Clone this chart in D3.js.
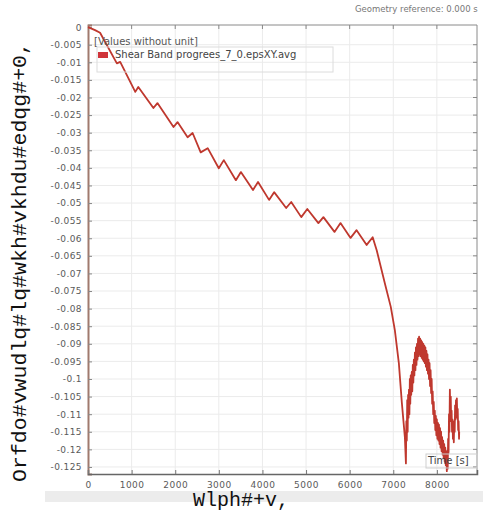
<!DOCTYPE html>
<html><head><meta charset="utf-8">
<script src="https://cdn.jsdelivr.net/npm/d3@7"></script>
<style>body{margin:0;background:#fff}svg{display:block}</style>
</head><body>
<script>
// ---- data ----
const timeS = [0,161,277,662,738,1084,1153,1500,1592,1961,2053,2284,2399,2584,2745,2999,3114,3391,3506,3783,3899,4152,4268,4544,4660,4890,5029,5283,5398,5652,5790,6021,6159,6390,6528,6620,6805,6943,7036,7128,7197,7266,
7290,7300,7310,7320,7330,7340,7350,7360,7370,7380,7390,7400,7412,7424,7436,7448,7460,7472,7484,7496,7508,7520,7532,7544,7556,7568,7580,7592,7604,7616,7628,7640,7652,7664,7676,7688,7700,7712,7724,7736,7748,7760,7772,7784,7796,7808,7820,7832,7844,7856,7868,7880,7892,7904,7916,7928,7940,7952,7964,7976,7988,8000,8012,8024,8036,8048,8060,8072,8084,8096,8108,8120,8132,8144,8156,8168,8180,8192,8204,8216,8228,8238,8248,8258,8268,8278,8288,8298,8308,8318,8328,8338,8348,8358,8368,8378,8388,8398,8408,8418,8428,8438,8448,8458,8468,8478,8488,8498,8508,8512];
const strain = [0,-0.00085,-0.0016,-0.0103,-0.0099,-0.0184,-0.0170,-0.0230,-0.0216,-0.0284,-0.0270,-0.0313,-0.0301,-0.0356,-0.0344,-0.0401,-0.0378,-0.0435,-0.0412,-0.0463,-0.0440,-0.0491,-0.0469,-0.0514,-0.0497,-0.0540,-0.0517,-0.0557,-0.0540,-0.0582,-0.0557,-0.0599,-0.0577,-0.0619,-0.0597,-0.0634,-0.0727,-0.0795,-0.0861,-0.0955,-0.1068,-0.1165,
-0.1240,-0.1120,-0.1175,-0.1060,-0.1150,-0.1045,-0.1110,-0.1030,-0.1100,-0.1000,-0.1070,-0.0990,-0.1045,-0.0980,-0.1035,-0.0960,-0.1010,-0.0945,-0.0990,-0.0925,-0.0975,-0.0910,-0.0960,-0.0900,-0.0945,-0.0885,-0.0935,-0.0880,-0.0930,-0.0885,-0.0935,-0.0890,-0.0940,-0.0895,-0.0945,-0.0900,-0.0950,-0.0905,-0.0955,-0.0910,-0.0965,-0.0920,-0.0975,-0.0930,-0.0985,-0.0945,-0.1000,-0.0955,-0.1020,-0.0975,-0.1040,-0.1000,-0.1070,-0.1035,-0.1100,-0.1065,-0.1125,-0.1090,-0.1145,-0.1105,-0.1160,-0.1115,-0.1170,-0.1125,-0.1175,-0.1130,-0.1185,-0.1140,-0.1195,-0.1150,-0.1205,-0.1165,-0.1215,-0.1175,-0.1225,-0.1185,-0.1235,-0.1195,-0.1245,-0.1205,-0.1262,-0.1215,-0.1255,-0.1170,-0.1210,-0.1100,-0.1150,-0.1030,-0.1095,-0.1050,-0.1120,-0.1090,-0.1150,-0.1115,-0.1170,-0.1130,-0.1180,-0.1120,-0.1150,-0.1075,-0.1115,-0.1060,-0.1100,-0.1055,-0.1110,-0.1085,-0.1145,-0.1120,-0.1170,-0.1150];
const xTicks = [0,1000,2000,3000,4000,5000,6000,7000,8000];
const yTicks = [0,-0.005,-0.01,-0.015,-0.02,-0.025,-0.03,-0.035,-0.04,-0.045,-0.05,-0.055,-0.06,-0.065,-0.07,-0.075,-0.08,-0.085,-0.09,-0.095,-0.1,-0.105,-0.11,-0.115,-0.12,-0.125];
const seriesName = "Shear Band progrees_7_0.epsXY.avg";
const legendTitle = "[Values without unit]";
const xTitle = "Wlph#+v,";
const yTitle = "Orfdo#vwudlq#lq#wkh#vkhdu#edqg#+0,";
const xUnitLabel = "Time [s]";
const geomRef = "Geometry reference: 0.000 s";

// ---- drawing ----
const W = 483, H = 515;
const L = 88, R = 477, T = 25, B = 474;
const svg = d3.select("body").append("svg").attr("width", W).attr("height", H);
const x = d3.scaleLinear().domain([0, 8920]).range([L, R]);
const y = d3.scaleLinear().domain([-0.127, 0.0006]).range([B, T]);

// scrollbar strip
svg.append("rect").attr("x", 45).attr("y", 491).attr("width", W - 45).attr("height", 11).attr("fill", "#ececec");

// grid
const g = svg.append("g");
g.selectAll(".vg").data(xTicks.filter(d => d > 0)).join("line")
  .attr("x1", d => x(d)).attr("x2", d => x(d)).attr("y1", T).attr("y2", B)
  .attr("stroke", "#ebebeb").attr("stroke-width", 1);
g.selectAll(".hg").data(yTicks.filter(d => d < 0)).join("line")
  .attr("x1", L).attr("x2", R).attr("y1", d => y(d)).attr("y2", d => y(d))
  .attr("stroke", "#ebebeb").attr("stroke-width", 1);

// frame top/right
svg.append("line").attr("x1", L).attr("x2", R).attr("y1", T).attr("y2", T).attr("stroke", "#8a8a8a");
svg.append("line").attr("x1", R).attr("x2", R).attr("y1", T).attr("y2", B).attr("stroke", "#8a8a8a");

// axes
const fmtY = d => d === 0 ? "0" : String(+d.toFixed(3));
const yAxis = d3.axisLeft(y).tickValues(yTicks).tickFormat(fmtY).tickSize(-4).tickPadding(6);
const yg = svg.append("g").attr("transform", `translate(${L},0)`).call(yAxis);
yg.select(".domain").attr("stroke", "#a07a6e").attr("stroke-width", 2);
yg.selectAll(".tick line").attr("stroke", "#888");
yg.selectAll(".tick text").attr("fill", "#5a5a5a").attr("font-size", 9).attr("font-family", "DejaVu Sans").attr("letter-spacing", 0.4);

const xAxis = d3.axisBottom(x).tickValues(xTicks).tickFormat(d3.format("d")).tickSize(-4).tickPadding(8);
const xg = svg.append("g").attr("transform", `translate(0,${B})`).call(xAxis);
xg.select(".domain").attr("stroke", "#666").attr("stroke-width", 1.5);
xg.selectAll(".tick line").attr("stroke", "#777");
xg.selectAll(".tick text").attr("fill", "#5a5a5a").attr("font-size", 9).attr("font-family", "DejaVu Sans").attr("letter-spacing", 0.5);

// top & right inner ticks
svg.selectAll(".tt").data(xTicks.filter(d => d > 0)).join("line")
  .attr("x1", d => x(d)).attr("x2", d => x(d)).attr("y1", T).attr("y2", T + 4).attr("stroke", "#888");
svg.selectAll(".rt").data(yTicks.filter(d => d < 0)).join("line")
  .attr("x1", R - 4).attr("x2", R).attr("y1", d => y(d)).attr("y2", d => y(d)).attr("stroke", "#888");

// data line
const pts = timeS.map((t, i) => [t, strain[i]]);
svg.append("path").datum(pts)
  .attr("d", d3.line().x(d => x(d[0])).y(d => y(d[1])))
  .attr("fill", "none").attr("stroke", "#bf382e").attr("stroke-width", 1.8).attr("stroke-linejoin", "round");

// legend
svg.append("text").attr("x", 94).attr("y", 45).text(legendTitle)
  .attr("font-family", "DejaVu Sans").attr("font-size", 10).attr("fill", "#555");
svg.append("rect").attr("x", 97).attr("y", 47).attr("width", 236).attr("height", 25)
  .attr("fill", "none").attr("stroke", "#dcdcdc");
svg.append("rect").attr("x", 98).attr("y", 52).attr("width", 10).attr("height", 6).attr("fill", "#d0343a");
svg.append("text").attr("x", 115).attr("y", 58).text(seriesName)
  .attr("font-family", "DejaVu Sans").attr("font-size", 10).attr("fill", "#444");

// "Time [s]" box
svg.append("rect").attr("x", 426).attr("y", 454).attr("width", 51).attr("height", 14)
  .attr("fill", "none").attr("stroke", "#cfcfcf");
svg.append("text").attr("x", 428).attr("y", 464).text(xUnitLabel)
  .attr("font-family", "DejaVu Sans").attr("font-size", 10).attr("fill", "#444");

// geometry reference
svg.append("text").attr("x", 355).attr("y", 12).text(geomRef)
  .attr("font-family", "DejaVu Sans").attr("font-size", 8.5).attr("fill", "#777");

// axis titles
svg.append("text").attr("x", 241).attr("y", 506).attr("text-anchor", "middle").text(xTitle)
  .attr("font-family", "Liberation Mono").attr("font-size", 20).attr("fill", "#111");
svg.append("text").attr("transform", "translate(26,262) rotate(-90)").attr("text-anchor", "middle").text(yTitle)
  .attr("font-family", "Liberation Mono").attr("font-size", 20).attr("fill", "#111")
  .attr("textLength", 440).attr("lengthAdjust", "spacingAndGlyphs");
</script>
</body></html>
